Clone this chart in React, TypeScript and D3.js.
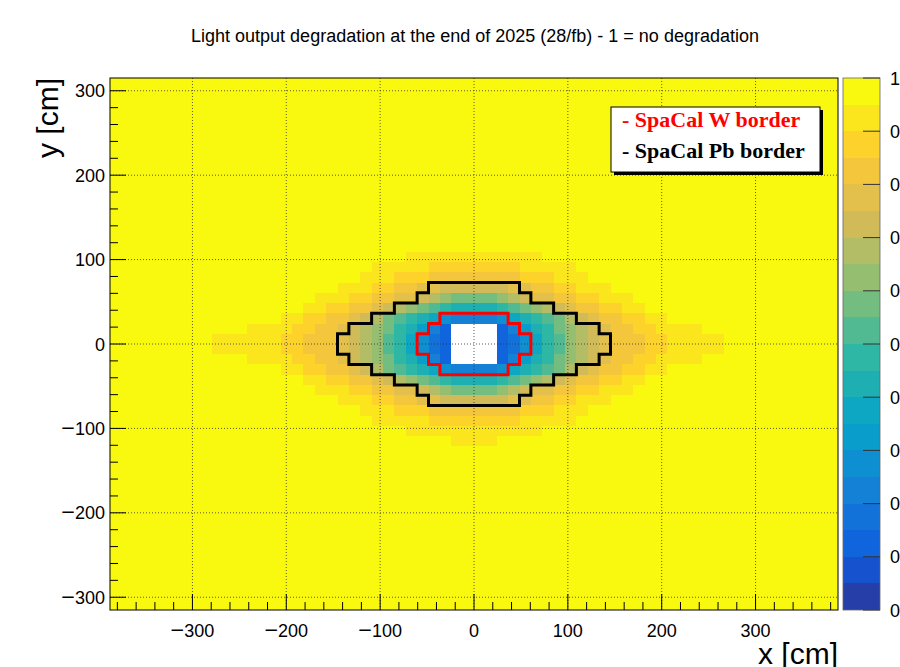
import React, { useEffect, useRef } from 'react';
import * as d3 from 'd3';

// cell size of the calorimeter map (cm)
const CELL = 12.12;
const N_COLS = 64;
const N_ROWS = 52;

const titleText =
  'Light output degradation at the end of 2025 (28/fb) - 1 = no degradation';
const xTicks = [-300, -200, -100, 0, 100, 200, 300];
const yTicks = [-300, -200, -100, 0, 100, 200, 300];
const zTicks = [0, 0.1, 0.2, 0.3, 0.4, 0.5, 0.6, 0.7, 0.8, 0.9, 1];
const zTickLabels = ['0', '0.1', '0.2', '0.3', '0.4', '0.5', '0.6', '0.7', '0.8', '0.9', '1'];

// band codes: 0..9, A..J -> contour band 0..19 (band k covers k/20 .. (k+1)/20)
// '#' = empty cell (beam hole)
const bandCodes = '0123456789ABCDEFGHIJ';
const firstCol = -24;
// rows above the beam line, row 0 first; columns -24 .. 23
const rowsAbove = [
  'JIIIIIIHHGGGFEDCA97532####23579ACDEFGGGHHIIIIIJJ',
  'JJJJIIIIHHGGFEDCB98642####24689BCDEFGGHHIIIIJJJJ',
  'JJJJJJJIIHHGGFEDBA987544445789ABDEFGGHHIIJJJJJJJ',
  'JJJJJJJJJIIHHGGFEDCBA988889ABCDEFGGHHIIJJJJJJJJJ',
  'JJJJJJJJJJIIIHHGGFFEDCBBBBCDEFFGGHHIIIJJJJJJJJJJ',
  'JJJJJJJJJJJJIIIHHGGFFEEEEEEFFGGHHIIIJJJJJJJJJJJJ',
  'JJJJJJJJJJJJJJIIIHHHGGGGGGGGHHHIIIJJJJJJJJJJJJJJ',
  'JJJJJJJJJJJJJJJIIIIIHHHHHHHHIIIIIJJJJJJJJJJJJJJJ',
  'JJJJJJJJJJJJJJJJJJIIIIIIIIIIIIJJJJJJJJJJJJJJJJJJ',
];
// rows below the beam line, row -1 first
const rowsBelow = [
  'JIIIIIIHHGGGFEDCA97532####23579ACDEFGGGHHIIIIIJJ',
  'JJJJIIIIHHGGFEDCB98642####24689BCDEFGGHHIIIIJJJJ',
  'JJJJJJJIIHHGGFEDBA987544445789ABDEFGGHHIIJJJJJJJ',
  'JJJJJJJJJIIHHGGFEDCBA988889ABCDEFGGHHIIJJJJJJJJJ',
  'JJJJJJJJJJIIIHHGGFFEDCBBBBCDEFFGGHHIIIJJJJJJJJJJ',
  'JJJJJJJJJJJJIIIHHGGFFEEEEEEFFGGHHIIIJJJJJJJJJJJJ',
  'JJJJJJJJJJJJJJIIIHHHGGGGGGGGHHHIIIJJJJJJJJJJJJJJ',
  'JJJJJJJJJJJJJJJIIIIIHHHHHHHHIIIIIJJJJJJJJJJJJJJJ',
  'JJJJJJJJJJJJJJJJJJIIIIIIIIIIIIJJJJJJJJJJJJJJJJJJ',
  'JJJJJJJJJJJJJJJJJJJJJJIIIIJJJJJJJJJJJJJJJJJJJJJJ',
];

// half widths (in cells) of the module borders, row 0 / row -1 outwards
const wBorderHalfWidth = [5, 4, 3];
const pbBorderHalfWidth = [12, 11, 9, 7, 5, 4];

const legendLabels = ['- SpaCal W border', '- SpaCal Pb border'];
const legendColors = ['#ff0000', '#000000'];

// ROOT kBird palette
const birdStops = [0, 0.125, 0.25, 0.375, 0.5, 0.625, 0.75, 0.875, 1];
const birdRed = [0.2082, 0.0592, 0.078, 0.0232, 0.1802, 0.5301, 0.8186, 0.9956, 0.9764];
const birdGreen = [0.1664, 0.3599, 0.5041, 0.6419, 0.7178, 0.7492, 0.7328, 0.7862, 0.9832];
const birdBlue = [0.5293, 0.8684, 0.8385, 0.7914, 0.6425, 0.4662, 0.3499, 0.1968, 0.0539];

const N_PALETTE = 255;
const N_BANDS = 20;

const paletteColor = (idx: number) => {
  const starts = birdStops.map(s => Math.floor(s * N_PALETTE));
  let g = 0;
  while (g < starts.length - 2 && idx >= starts[g + 1]) g++;
  const n = starts[g + 1] - starts[g];
  const f = (idx - starts[g]) / n;
  const ch = (arr: number[]) => Math.round(255 * (arr[g] + f * (arr[g + 1] - arr[g])));
  return d3.rgb(ch(birdRed), ch(birdGreen), ch(birdBlue)).formatHex();
};

const bandColor = (k: number) =>
  paletteColor(Math.min(N_PALETTE - 1, Math.floor((k + 0.99) * N_PALETTE / N_BANDS)));

const valueToBand = (v: number) => Math.min(N_BANDS - 1, Math.floor(v * N_BANDS + 0.01));

// value map, default 1 = no degradation
const buildCells = () => {
  const cells: { col: number; row: number; v: number | null }[] = [];
  const lookup = new Map<string, number | null>();
  const put = (rowStr: string, row: number) => {
    rowStr.split('').forEach((ch, i) => {
      const k = bandCodes.indexOf(ch);
      lookup.set(`${firstCol + i},${row}`, ch === '#' ? null : (k + 0.5) / N_BANDS);
    });
  };
  rowsAbove.forEach((s, r) => put(s, r));
  rowsBelow.forEach((s, r) => put(s, -1 - r));
  for (let col = -N_COLS / 2; col < N_COLS / 2; col++) {
    for (let row = -N_ROWS / 2; row < N_ROWS / 2; row++) {
      const key = `${col},${row}`;
      cells.push({ col, row, v: lookup.has(key) ? (lookup.get(key) as number | null) : 1 });
    }
  }
  return cells;
};

const borderPoints = (h: number[]) => {
  const n = h.length;
  const pts: [number, number][] = [];
  for (let r = 0; r < n; r++) {
    pts.push([h[r], r], [h[r], r + 1]);
  }
  for (let r = n - 1; r >= 0; r--) {
    pts.push([-h[r], r + 1], [-h[r], r]);
  }
  for (let r = 0; r < n; r++) {
    pts.push([-h[r], -r], [-h[r], -r - 1]);
  }
  for (let r = n - 1; r >= 0; r--) {
    pts.push([h[r], -r - 1], [h[r], -r]);
  }
  return pts;
};

const W = 900;
const H = 667;
const frame = { left: 110, right: 838, top: 78, bottom: 610 };
const bar = { left: 843, right: 880 };
const SANS = '"Liberation Sans", Arial, Helvetica, sans-serif';
const SERIF = '"Liberation Serif", "Times New Roman", serif';
const TICK_FONT = 18;

const App = () => {
  const ref = useRef<SVGSVGElement | null>(null);

  useEffect(() => {
    const svg = d3.select(ref.current);
    svg.selectAll('*').remove();

    const x = d3.scaleLinear()
      .domain([-N_COLS / 2 * CELL, N_COLS / 2 * CELL])
      .range([frame.left, frame.right]);
    const y = d3.scaleLinear()
      .domain([-N_ROWS / 2 * CELL, N_ROWS / 2 * CELL])
      .range([frame.bottom, frame.top]);
    const z = d3.scaleLinear().domain([0, 1]).range([frame.bottom, frame.top]);

    svg.append('rect')
      .attr('width', W).attr('height', H).attr('fill', '#fff');

    // title
    svg.append('text')
      .attr('x', 475).attr('y', 42)
      .attr('text-anchor', 'middle')
      .attr('font-family', SANS).attr('font-size', 18)
      .text(titleText);

    // heat map
    const cells = buildCells().filter(c => c.v !== null);
    svg.append('g')
      .attr('shape-rendering', 'crispEdges')
      .selectAll('rect')
      .data(cells)
      .enter().append('rect')
      .attr('x', d => x(d.col * CELL))
      .attr('y', d => y((d.row + 1) * CELL))
      .attr('width', d => x((d.col + 1) * CELL) - x(d.col * CELL))
      .attr('height', d => y(d.row * CELL) - y((d.row + 1) * CELL))
      .attr('fill', d => bandColor(valueToBand(d.v as number)));

    // grid
    const grid = svg.append('g')
      .attr('stroke', '#333').attr('stroke-width', 0.8)
      .attr('stroke-dasharray', '1,2');
    xTicks.forEach(t => {
      grid.append('line')
        .attr('x1', x(t)).attr('x2', x(t))
        .attr('y1', frame.top).attr('y2', frame.bottom);
    });
    yTicks.forEach(t => {
      grid.append('line')
        .attr('y1', y(t)).attr('y2', y(t))
        .attr('x1', frame.left).attr('x2', frame.right);
    });

    // module borders
    const line = d3.line<[number, number]>()
      .x(d => x(d[0] * CELL))
      .y(d => y(d[1] * CELL));
    [[pbBorderHalfWidth, '#000'], [wBorderHalfWidth, '#ff0000']].forEach(([h, col]) => {
      svg.append('path')
        .attr('d', line(borderPoints(h as number[])) + 'Z')
        .attr('fill', 'none')
        .attr('stroke', col as string)
        .attr('stroke-width', 3)
        .attr('stroke-linejoin', 'miter');
    });

    // axes ticks
    const ticks = svg.append('g').attr('stroke', '#000').attr('stroke-width', 1);
    d3.range(-380, 381, 20).forEach(t => {
      const len = t % 100 === 0 ? 16 : 8;
      ticks.append('line')
        .attr('x1', x(t)).attr('x2', x(t))
        .attr('y1', frame.bottom).attr('y2', frame.bottom - len);
    });
    d3.range(-300, 301, 20).forEach(t => {
      const len = t % 100 === 0 ? 16 : 8;
      ticks.append('line')
        .attr('y1', y(t)).attr('y2', y(t))
        .attr('x1', frame.left).attr('x2', frame.left + len);
    });

    svg.append('rect')
      .attr('x', frame.left).attr('y', frame.top)
      .attr('width', frame.right - frame.left)
      .attr('height', frame.bottom - frame.top)
      .attr('fill', 'none').attr('stroke', '#000');

    // tick labels, with ROOT's long minus sign
    const label = (sel: d3.Selection<SVGTextElement, number, SVGGElement, unknown>) => {
      sel.each(function (d) {
        const t = d3.select(this);
        if (d < 0) {
          t.append('tspan').attr('font-size', TICK_FONT * 1.3).attr('dy', 1).text('\u2212');
          t.append('tspan').attr('dy', -1).text(String(Math.abs(d)));
        } else {
          t.text(String(d));
        }
      });
    };
    svg.append('g').selectAll<SVGTextElement, number>('text')
      .data(xTicks).enter().append('text')
      .attr('x', d => x(d)).attr('y', 637)
      .attr('text-anchor', 'middle')
      .attr('font-family', SANS).attr('font-size', TICK_FONT)
      .call(label);
    svg.append('g').selectAll<SVGTextElement, number>('text')
      .data(yTicks).enter().append('text')
      .attr('x', 105).attr('y', d => y(d) + 6.5)
      .attr('text-anchor', 'end')
      .attr('font-family', SANS).attr('font-size', TICK_FONT)
      .call(label);

    svg.append('text')
      .attr('x', frame.right).attr('y', 664)
      .attr('text-anchor', 'end')
      .attr('font-family', SANS).attr('font-size', 30)
      .text('x [cm]');
    svg.append('text')
      .attr('transform', `translate(58,${frame.top}) rotate(-90)`)
      .attr('text-anchor', 'end')
      .attr('font-family', SANS).attr('font-size', 30)
      .text('y [cm]');

    // legend
    const lx = 611, ly = 107, lw = 209, lh = 65;
    svg.append('rect')
      .attr('x', lx + 3).attr('y', ly + 3).attr('width', lw).attr('height', lh)
      .attr('fill', '#000');
    svg.append('rect')
      .attr('x', lx).attr('y', ly).attr('width', lw).attr('height', lh)
      .attr('fill', '#fff').attr('stroke', '#000');
    legendLabels.forEach((lab, i) => {
      svg.append('text')
        .attr('x', 622).attr('y', 127 + i * 31)
        .attr('font-family', SERIF).attr('font-weight', 'bold')
        .attr('font-size', 22)
        .attr('fill', legendColors[i])
        .text(lab);
    });

    // colour bar
    const bands = d3.range(N_BANDS);
    svg.append('g')
      .attr('shape-rendering', 'crispEdges')
      .selectAll('rect')
      .data(bands).enter().append('rect')
      .attr('x', bar.left).attr('width', bar.right - bar.left)
      .attr('y', k => z((k + 1) / N_BANDS))
      .attr('height', k => z(k / N_BANDS) - z((k + 1) / N_BANDS))
      .attr('fill', k => bandColor(k));
    svg.append('rect')
      .attr('x', bar.left).attr('y', frame.top)
      .attr('width', bar.right - bar.left).attr('height', frame.bottom - frame.top)
      .attr('fill', 'none').attr('stroke', '#666').attr('stroke-width', 0.8);
    zTicks.forEach((t, i) => {
      svg.append('line')
        .attr('x1', bar.right).attr('x2', bar.right - 17)
        .attr('y1', z(t)).attr('y2', z(t))
        .attr('stroke', '#333').attr('stroke-width', 1);
      // labels run past the page edge, as in the original canvas
      svg.append('text')
        .attr('x', 890).attr('y', z(t) + 6.5)
        .attr('font-family', SANS).attr('font-size', TICK_FONT)
        .text(zTickLabels[i]);
    });
  }, []);

  return (
    <svg
      ref={ref}
      width={W}
      height={H}
      style={{ position: 'absolute', left: 0, top: 0 }}
    />
  );
};

export default App;
